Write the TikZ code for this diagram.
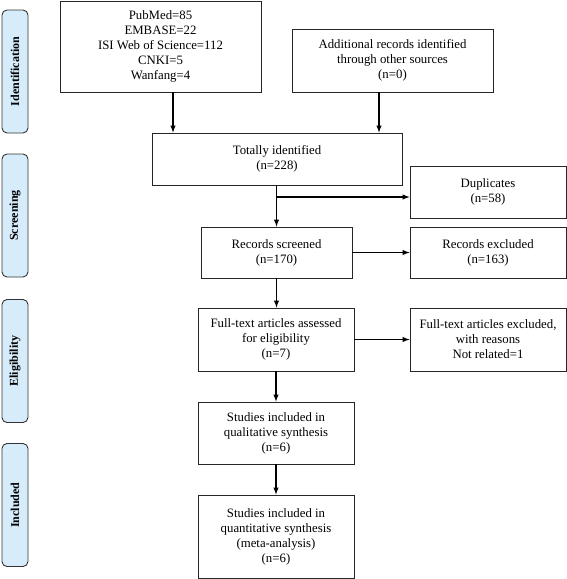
\documentclass[tikz,border=0pt]{standalone}
\usepackage{fontspec}
\setmainfont{Liberation Serif}
\usepackage{tikz}
\usetikzlibrary{arrows}
\definecolor{phaseblue}{RGB}{214,236,250}
\tikzstyle{arrow} = [line width=1.4pt,->,>=latex]

\begin{document}
\begin{tikzpicture}[x=1pt,y=-1pt]
    \tikzstyle{box}=[draw=black!85,line width=0.8pt,rectangle,align=center,inner sep=0pt,font=\fontsize{12.8}{15}\selectfont]
    \tikzstyle{side box}=[box, minimum width=156pt]
    \tikzstyle{main box}=[box, minimum width=156pt]
    \tikzstyle{phase}=[draw=black!80,line width=0.9pt,fill=phaseblue,rounded corners=5pt,rotate=90,minimum width=123pt,minimum height=26pt,inner sep=0pt,font=\fontsize{12}{14}\selectfont\bfseries]

    \useasboundingbox (0,0) rectangle (567,579);

    % Draw the phase labels
    \foreach \name / \y / \txt in {1/71.5/Identification,2/215.5/Screening,3/361/Eligibility,4/505/Included}
        \path node[phase] (P-\name) at (15,\y) {\txt};

    % Draw the identification boxes
    \path node[box, minimum width=201pt, minimum height=91pt] (db) at (160.5,46.5)
        {PubMed=85\\EMBASE=22\\ISI Web of Science=112\\CNKI=5\\Wanfang=4};
    \path node[box, minimum width=201pt, minimum height=63pt] (add) at (392.5,60.5)
        {Additional records identified\\through other sources\\(n=0)};
    \path node[box, minimum width=250pt, minimum height=52pt] (tot) at (277,159)
        {Totally identified\\(n=228)};

    % Draw the screening boxes
    \path node[side box, minimum height=52pt] (dup) at (488,192) {Duplicates\\(n=58)};
    \path node[box, minimum width=151pt, minimum height=51pt] (scr) at (276.5,252.5)
        {Records screened\\(n=170)};
    \path node[side box, minimum height=51pt] (exc) at (488,252.5) {Records excluded\\(n=163)};

    % Draw the eligibility boxes
    \path node[main box, minimum height=63pt] (ft) at (276,339.5)
        {Full-text articles assessed\\for eligibility\\(n=7)};
    \path node[side box, minimum height=63pt] (ftx) at (488,339.5)
        {Full-text articles excluded,\\with reasons\\Not related=1};

    % Draw the included boxes
    \path node[main box, minimum height=62pt] (qual) at (276,433)
        {Studies included in\\qualitative synthesis\\(n=6)};
    \path node[main box, minimum height=83pt] (quant) at (276,536.5)
        {Studies included in\\quantitative synthesis\\(meta-analysis)\\(n=6)};

    % Draw the arrows
    \draw[arrow] ([xshift=12.5pt]db.south) -- ([xshift=12.5pt]db.south |- tot.north);
    \draw[arrow] ([xshift=-13.5pt]add.south) -- ([xshift=-13.5pt]add.south |- tot.north);
    \draw[arrow] (tot.south -| scr.north) -- (scr.north);
    \draw[arrow] ([yshift=-5pt]dup.west -| scr.north) -- ([yshift=-5pt]dup.west);
    \draw[arrow] (scr.east) -- (scr.east -| exc.west);
    \draw[arrow] (scr.south) -- (scr.south |- ft.north);
    \draw[arrow] (ft.east) -- (ftx.west);
    \draw[arrow] (ft.south) -- (qual.north);
    \draw[arrow] (qual.south) -- (quant.north);
\end{tikzpicture}
\end{document}
